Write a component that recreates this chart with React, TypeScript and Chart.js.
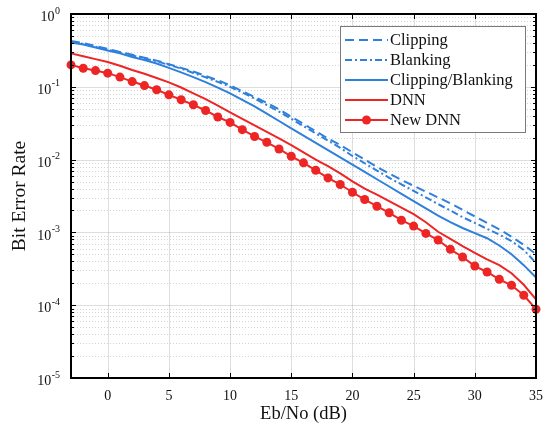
import React, { useEffect, useRef } from 'react';
import { Chart, registerables } from 'chart.js';

Chart.register(...registerables);

const ebNo = [-3, -2, -1, 0, 1, 2, 3, 4, 5, 6, 7, 8, 9, 10, 11, 12, 13, 14, 15, 16, 17, 18, 19, 20, 21, 22, 23, 24, 25, 26, 27, 28, 29, 30, 31, 32, 33, 34, 35];

const clipping = [0.427, 0.398, 0.363, 0.331, 0.302, 0.275, 0.251, 0.229, 0.204, 0.182, 0.162, 0.141, 0.123, 0.105, 0.0871, 0.0724, 0.0603, 0.049, 0.0389, 0.0309, 0.0245, 0.0195, 0.0158, 0.0126, 0.01, 0.00794, 0.00646, 0.00525, 0.00437, 0.00363, 0.00302, 0.00251, 0.00204, 0.00166, 0.00135, 0.0011, 0.000871, 0.000676, 0.000501];

const blanking = [0.417, 0.389, 0.355, 0.324, 0.295, 0.269, 0.245, 0.224, 0.2, 0.178, 0.155, 0.135, 0.117, 0.1, 0.0832, 0.0692, 0.0562, 0.0457, 0.0363, 0.0288, 0.0229, 0.0182, 0.0145, 0.0112, 0.00891, 0.00708, 0.00562, 0.00457, 0.00372, 0.00302, 0.00245, 0.002, 0.00162, 0.00135, 0.00112, 0.000933, 0.000759, 0.000575, 0.00038];

const clipBlank = [0.407, 0.38, 0.347, 0.316, 0.288, 0.257, 0.234, 0.209, 0.182, 0.158, 0.136, 0.116, 0.0977, 0.0813, 0.0661, 0.0537, 0.0427, 0.0339, 0.0269, 0.0214, 0.017, 0.0135, 0.0107, 0.00851, 0.00676, 0.00537, 0.00427, 0.00339, 0.00269, 0.00214, 0.0017, 0.00138, 0.00115, 0.000977, 0.000832, 0.000661, 0.000501, 0.000355, 0.00024];

const dnn = [0.288, 0.263, 0.24, 0.219, 0.195, 0.17, 0.151, 0.132, 0.115, 0.0977, 0.0813, 0.0676, 0.055, 0.0447, 0.0363, 0.0295, 0.024, 0.0195, 0.0158, 0.0126, 0.01, 0.00813, 0.00646, 0.00501, 0.00398, 0.00331, 0.00269, 0.00219, 0.00178, 0.00138, 0.00102, 0.000813, 0.000646, 0.000525, 0.000427, 0.000355, 0.000275, 0.000191, 0.00012];

const newDnn = [0.2, 0.18, 0.167, 0.154, 0.136, 0.118, 0.104, 0.091, 0.0776, 0.0664, 0.0566, 0.0473, 0.0385, 0.0324, 0.0258, 0.0208, 0.0173, 0.014, 0.0111, 0.00902, 0.00713, 0.00561, 0.00455, 0.00356, 0.00283, 0.00229, 0.00186, 0.00147, 0.00122, 0.000968, 0.000785, 0.000585, 0.000459, 0.000345, 0.000286, 0.000227, 0.000188, 0.000137, 0.0000881];

const seriesNames = ['Clipping', 'Blanking', 'Clipping/Blanking', 'DNN', 'New DNN'];
const xTicks = [0, 5, 10, 15, 20, 25, 30, 35];
const yDecades = [1, 0.1, 0.01, 0.001, 0.0001, 0.00001];
const yExponents = ['0', '-1', '-2', '-3', '-4', '-5'];
const xTitle = 'Eb/No (dB)';
const yTitle = 'Bit Error Rate';

const BLUE = '#2f80dc';
const RED = '#ee2525';
const FONT = "'Liberation Serif', 'Times New Roman', serif";

const decorPlugin = {
  id: 'decor',
  beforeDatasetsDraw(chart: any) {
    const { ctx, chartArea: a, scales } = chart;
    const x = scales.x;
    const y = scales.y;
    ctx.save();
    ctx.beginPath();
    ctx.rect(a.left, a.top, a.right - a.left, a.bottom - a.top);
    ctx.clip();
    ctx.lineWidth = 1;
    ctx.strokeStyle = 'rgba(0,0,0,0.17)';
    ctx.setLineDash([1, 2]);
    for (let k = 1; k < yDecades.length; k++) {
      const base = yDecades[k];
      for (let m = 2; m <= 9; m++) {
        const py = Math.round(y.getPixelForValue(base * m)) + 0.5;
        ctx.beginPath();
        ctx.moveTo(a.left, py);
        ctx.lineTo(a.right, py);
        ctx.stroke();
      }
    }
    ctx.strokeStyle = 'rgba(0,0,0,0.13)';
    ctx.setLineDash([]);
    xTicks.forEach((v) => {
      const px = Math.round(x.getPixelForValue(v)) + 0.5;
      ctx.beginPath();
      ctx.moveTo(px, a.top);
      ctx.lineTo(px, a.bottom);
      ctx.stroke();
    });
    yDecades.forEach((v) => {
      const py = Math.round(y.getPixelForValue(v)) + 0.5;
      ctx.beginPath();
      ctx.moveTo(a.left, py);
      ctx.lineTo(a.right, py);
      ctx.stroke();
    });
    ctx.restore();
  },
  afterDatasetsDraw(chart: any) {
    const { ctx, chartArea: a, scales } = chart;
    const x = scales.x;
    const y = scales.y;
    ctx.save();
    ctx.strokeStyle = '#000';
    ctx.setLineDash([]);
    ctx.lineWidth = 1;
    xTicks.forEach((v) => {
      const px = Math.round(x.getPixelForValue(v)) + 0.5;
      ctx.beginPath();
      ctx.moveTo(px, a.bottom);
      ctx.lineTo(px, a.bottom - 5);
      ctx.moveTo(px, a.top);
      ctx.lineTo(px, a.top + 5);
      ctx.stroke();
    });
    yDecades.forEach((v, k) => {
      const py = Math.round(y.getPixelForValue(v)) + 0.5;
      ctx.beginPath();
      ctx.moveTo(a.left, py);
      ctx.lineTo(a.left + 5, py);
      ctx.moveTo(a.right, py);
      ctx.lineTo(a.right - 5, py);
      ctx.stroke();
      if (k > 0) {
        for (let m = 2; m <= 9; m++) {
          const pm = Math.round(y.getPixelForValue(v * m)) + 0.5;
          ctx.beginPath();
          ctx.moveTo(a.left, pm);
          ctx.lineTo(a.left + 3, pm);
          ctx.moveTo(a.right, pm);
          ctx.lineTo(a.right - 3, pm);
          ctx.stroke();
        }
      }
    });
    ctx.lineWidth = 2;
    ctx.strokeRect(a.left, a.top, a.right - a.left, a.bottom - a.top);
    ctx.restore();
  },
  afterDraw(chart: any) {
    const { ctx, scales } = chart;
    const y = scales.y;
    ctx.save();
    ctx.fillStyle = '#111';
    ctx.textBaseline = 'middle';
    ctx.textAlign = 'right';
    yDecades.forEach((v, k) => {
      const py = y.getPixelForValue(v);
      const exp = yExponents[k];
      ctx.font = `10px ${FONT}`;
      const w = ctx.measureText(exp).width;
      ctx.fillText(exp, 60, py - 3);
      ctx.font = `14px ${FONT}`;
      ctx.fillText('10', 60 - w - 0.5, py + 3.5);
    });
    const lx = 340, ly = 26, lw = 185, lh = 106;
    ctx.fillStyle = '#fff';
    ctx.fillRect(lx, ly, lw, lh);
    ctx.strokeStyle = '#7a7a7a';
    ctx.lineWidth = 1;
    ctx.strokeRect(lx + 0.5, ly + 0.5, lw, lh);
    chart.data.datasets.forEach((ds: any, i: number) => {
      const ry = ly + 14 + i * 20;
      ctx.strokeStyle = ds.borderColor;
      ctx.lineWidth = ds.borderWidth;
      ctx.setLineDash(ds.borderDash || []);
      ctx.beginPath();
      ctx.moveTo(lx + 5, ry);
      ctx.lineTo(lx + 48, ry);
      ctx.stroke();
      ctx.setLineDash([]);
      if (ds.pointRadius > 0) {
        ctx.fillStyle = ds.pointBackgroundColor;
        ctx.beginPath();
        ctx.arc(lx + 26.5, ry, ds.pointRadius, 0, Math.PI * 2);
        ctx.fill();
      }
      ctx.fillStyle = '#111';
      ctx.font = `16.5px ${FONT}`;
      ctx.textAlign = 'left';
      ctx.textBaseline = 'middle';
      ctx.fillText(ds.label, lx + 50, ry + 1);
    });
    ctx.restore();
  },
};

export default function App() {
  const ref = useRef<HTMLCanvasElement>(null);
  useEffect(() => {
    if (!ref.current) return;
    Chart.defaults.font.family = FONT;
    const mk = (i: number, values: number[], color: string, dash: number[], radius: number) => ({
      label: seriesNames[i],
      data: ebNo.map((e, j) => ({ x: e, y: values[j] })),
      borderColor: color,
      backgroundColor: color,
      borderWidth: 2,
      borderDash: dash,
      pointRadius: radius,
      pointBackgroundColor: color,
      pointBorderColor: color,
      pointBorderWidth: 0,
      tension: 0,
      clip: false as any,
    });
    const chart = new Chart(ref.current, {
      type: 'line',
      data: {
        datasets: [
          mk(0, clipping, BLUE, [9, 5], 0),
          mk(1, blanking, BLUE, [7, 3, 2, 3], 0),
          mk(2, clipBlank, BLUE, [], 0),
          mk(3, dnn, RED, [], 0),
          mk(4, newDnn, RED, [], 4.5),
        ],
      },
      options: {
        animation: false,
        responsive: false,
        devicePixelRatio: 1,
        layout: { padding: { top: 14, right: 18, bottom: 0, left: 0 } },
        plugins: { legend: { display: false }, tooltip: { enabled: false } },
        scales: {
          x: {
            type: 'linear',
            min: -3,
            max: 35,
            afterBuildTicks: (s: any) => {
              s.ticks = xTicks.map((v) => ({ value: v }));
            },
            afterFit: (s: any) => {
              s.height = 51;
            },
            grid: { display: false },
            border: { display: false },
            ticks: { font: { size: 14 }, color: '#111', padding: 2, maxRotation: 0 },
            title: { display: true, text: xTitle, font: { size: 18.5 }, color: '#111', padding: { top: 0, bottom: 4 } },
          },
          y: {
            type: 'logarithmic',
            min: 0.00001,
            max: 1,
            afterFit: (s: any) => {
              s.width = 71;
            },
            grid: { display: false },
            border: { display: false },
            ticks: { display: false },
            title: { display: true, text: yTitle, font: { size: 19.5 }, color: '#111', padding: { top: 8, bottom: 0 } },
          },
        },
      },
      plugins: [decorPlugin],
    } as any);
    return () => chart.destroy();
  }, []);
  return (
    <div style={{ position: 'fixed', left: 0, top: 0, width: 554, height: 429, background: '#fff' }}>
      <canvas ref={ref} width={554} height={429} style={{ display: 'block' }} />
    </div>
  );
}
